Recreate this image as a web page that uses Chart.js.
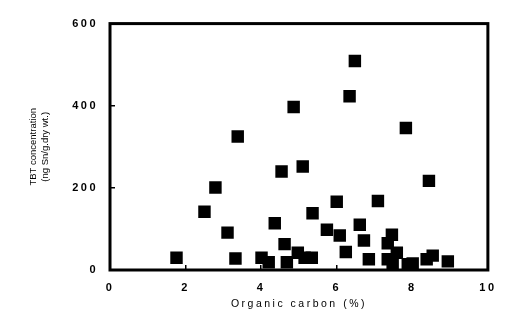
<!DOCTYPE html>
<html>
<head>
<meta charset="utf-8">
<script src="https://cdn.jsdelivr.net/npm/chart.js@4/dist/chart.umd.min.js"></script>
<style>
  html, body { margin: 0; padding: 0; background: #fff; }
  #wrap { width: 510px; height: 310px; }
</style>
</head>
<body>
<div id="wrap"><canvas id="chart"></canvas></div>
<script>
// Data
const organicCarbon = [1.76, 2.50, 2.79, 3.11, 3.32, 3.38, 4.01, 4.20, 4.36, 4.54,
  4.62, 4.68, 4.86, 4.97, 5.10, 5.15, 5.34, 5.36, 5.74, 6.00,
  6.08, 6.24, 6.34, 6.48, 6.61, 6.72, 6.85, 7.09, 7.35, 7.46,
  7.35, 7.59, 7.48, 7.83, 7.88, 8.01, 8.38, 8.44, 8.54, 8.94];
const tbtConc = [30, 142, 201, 91, 28, 325, 30, 19, 114, 240,
  63, 19, 397, 42, 252, 30, 30, 138, 98, 166,
  84, 44, 423, 509, 110, 72, 26, 168, 65, 86,
  26, 42, 16, 346, 14, 16, 26, 217, 35, 21];
const xTicks = [0, 2, 4, 6, 8, 10];
const yTicks = [0, 200, 400, 600];
const xTitle = 'Organic carbon (%)';
const yTitle = ['TBT concentration', '(ng Sn/g.dry wt.)'];

const points = organicCarbon.map((x, i) => ({ x: x, y: tbtConc[i] }));

// Spaced-out lettering like the scan; y title stays tight
const spacing = {
  id: 'spacing',
  beforeDraw(chart) { chart.ctx.letterSpacing = '2.5px'; },
  afterUpdate(chart) {
    const s = chart.scales.y;
    if (s._patched) return;
    const orig = s.drawTitle.bind(s);
    s.drawTitle = function () {
      const c = this.ctx;
      const ls = c.letterSpacing;
      c.letterSpacing = '0px';
      orig();
      c.letterSpacing = ls;
    };
    s._patched = true;
  }
};

// Box round the plot
const frame = {
  id: 'frame',
  afterDraw(chart) {
    const { ctx, chartArea: a } = chart;
    ctx.save();
    ctx.strokeStyle = '#000';
    ctx.lineWidth = 3;
    ctx.strokeRect(a.left, a.top, a.right - a.left, a.bottom - a.top);
    ctx.restore();
  }
};

const tickFont = { family: "'Liberation Sans', Arial, sans-serif", size: 11, weight: 'bold', lineHeight: 1.2 };

new Chart(document.getElementById('chart'), {
  type: 'scatter',
  data: {
    datasets: [{
      data: points,
      pointStyle: 'rect',
      pointRadius: 8.8,
      pointHoverRadius: 8.8,
      pointBorderWidth: 0,
      backgroundColor: '#000',
      borderColor: '#000'
    }]
  },
  plugins: [spacing, frame],
  options: {
    responsive: true,
    maintainAspectRatio: false,
    animation: false,
    events: [],
    layout: { padding: { top: 13, right: 20, left: 0, bottom: 0 } },
    plugins: { legend: { display: false }, tooltip: { enabled: false } },
    scales: {
      x: {
        type: 'linear',
        min: 0, max: 10,
        afterBuildTicks: s => { s.ticks = xTicks.map(v => ({ value: v })); },
        afterFit: s => { s.height = 40; },
        border: { display: false },
        grid: { drawOnChartArea: false, color: '#000', lineWidth: 1.5, tickLength: -5 },
        ticks: { color: '#000', font: tickFont, padding: 16, maxRotation: 0 },
        title: {
          display: true, text: xTitle, color: '#000',
          font: { family: "'Liberation Sans', Arial, sans-serif", size: 10.5, lineHeight: 1.2 },
          padding: { top: 0, bottom: 0 }
        }
      },
      y: {
        type: 'linear',
        min: 0, max: 600,
        afterBuildTicks: s => { s.ticks = yTicks.map(v => ({ value: v })); },
        afterFit: s => { s.width = 110; },
        border: { display: false },
        grid: { drawOnChartArea: false, color: '#000', lineWidth: 1.5, tickLength: -5 },
        ticks: { color: '#000', font: tickFont, padding: 17 },
        title: {
          display: true, text: yTitle, color: '#000',
          font: { family: "'Liberation Sans', Arial, sans-serif", size: 9.5, lineHeight: 1.3 },
          padding: { top: 27, bottom: 0 }
        }
      }
    }
  }
});
</script>
</body>
</html>
